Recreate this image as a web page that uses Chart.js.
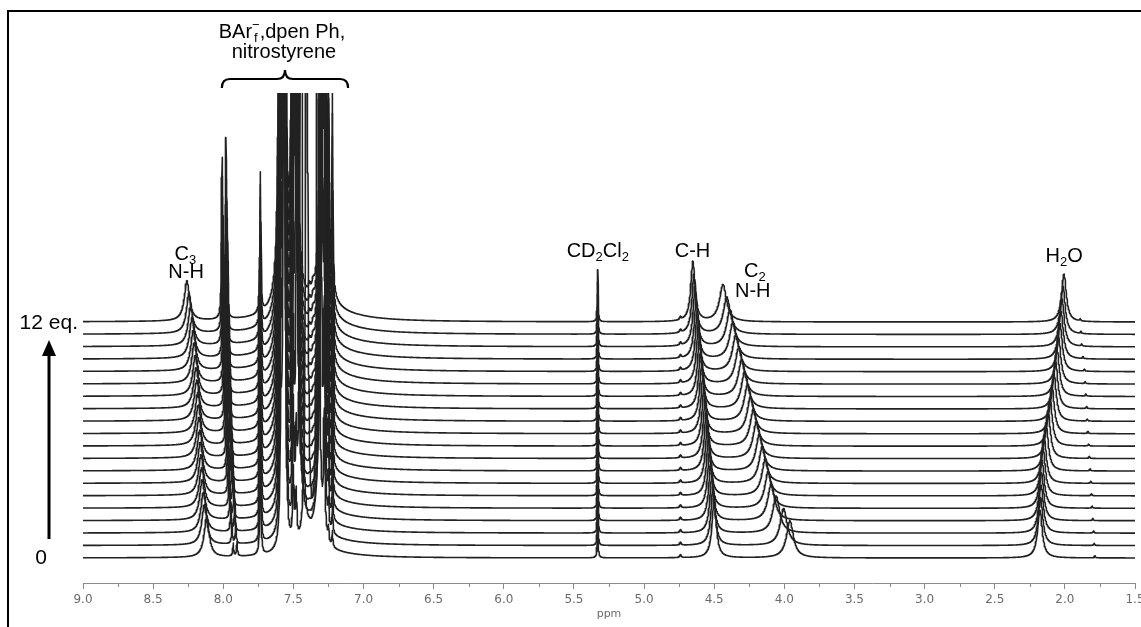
<!DOCTYPE html>
<html>
<head>
<meta charset="utf-8">
<script src="https://cdn.jsdelivr.net/npm/chart.js@4.4.1/dist/chart.umd.min.js"></script>
<style>
  html, body { margin: 0; padding: 0; background: #fff; overflow: hidden; }
  #wrap { position: relative; width: 1160px; height: 627px; }
</style>
</head>
<body>
<div id="wrap"><canvas id="nmr"></canvas></div>
<script>
// ---- 1H NMR titration, stacked spectra (bottom trace = 0, top trace = 12 eq.) ----

// chemical shift (ppm) of each moving signal, one value per trace, bottom to top
const shiftC3NH  = [8.118, 8.135, 8.142, 8.150, 8.154, 8.159, 8.164, 8.168, 8.173, 8.178, 8.182, 8.189, 8.194, 8.199, 8.207, 8.214, 8.223, 8.232, 8.244, 8.259];
const shiftCH    = [4.500, 4.508, 4.516, 4.524, 4.532, 4.540, 4.548, 4.556, 4.564, 4.572, 4.580, 4.588, 4.596, 4.604, 4.612, 4.620, 4.628, 4.636, 4.644, 4.652];
const shiftC2NH  = [3.960, 4.005, 4.058, 4.093, 4.114, 4.135, 4.156, 4.177, 4.198, 4.219, 4.240, 4.261, 4.282, 4.303, 4.324, 4.345, 4.366, 4.387, 4.410, 4.437];
const shiftH2O   = [2.178, 2.174, 2.170, 2.167, 2.163, 2.156, 2.149, 2.135, 2.120, 2.106, 2.092, 2.078, 2.067, 2.056, 2.046, 2.035, 2.028, 2.021, 2.014, 2.006];
const shiftMinor = [1.785, 1.790, 1.795, 1.800, 1.805, 1.810, 1.815, 1.820, 1.825, 1.830, 1.835, 1.840, 1.845, 1.850, 1.855, 1.860, 1.870, 1.880, 1.885, 1.890];
const shiftVinyl = [7.915, 7.925, 7.932, 7.938, 7.944, 7.949, 7.954, 7.958, 7.962, 7.966, 7.970, 7.973, 7.976, 7.979, 7.982, 7.985, 7.988, 7.991, 7.993, 7.995];
const shiftPhA   = [7.405, 7.445, 7.465, 7.475, 7.480, 7.483, 7.485, 7.486, 7.487, 7.488, 7.488, 7.489, 7.489, 7.490, 7.490, 7.490, 7.490, 7.490, 7.490, 7.490];
const shiftPhB   = [7.325, 7.310, 7.303, 7.299, 7.297, 7.296, 7.295, 7.295, 7.295, 7.295, 7.295, 7.295, 7.295, 7.295, 7.295, 7.295, 7.295, 7.295, 7.295, 7.295];

// relative amount of added nitrostyrene in each trace (1 = 12 eq.)
const titrantLevel = [0.08, 0.13, 0.18, 0.23, 0.28, 0.33, 0.38, 0.43, 0.48, 0.53, 0.58, 0.63, 0.68, 0.73, 0.78, 0.83, 0.87, 0.91, 0.96, 1.00];

// signals that keep their position: [ppm, intensity, half-width (ppm)]
const fixedLines = [
  [7.735, 140, 0.004],   // BArF ortho
  [7.565, 1800, 0.004],  // BArF para
  [7.300, 5, 0.25],      // broad aromatic base
  [5.330, 52, 0.003],    // CD2Cl2
  [4.740, 3, 0.006]
];

// nitrostyrene signals: [ppm, intensity at 12 eq., half-width (ppm)]
const titrantLines = [
  [7.590, 1500, 0.006],
  [7.575, 1200, 0.006],
  [7.500, 900, 0.006],
  [7.480, 600, 0.006],
  [7.385, 8, 0.008],
  [7.360, 8, 0.008],
  [7.280, 1500, 0.006],
  [7.250, 170, 0.004],
  [7.222, 190, 0.004],
  [7.300, 6, 0.25]
];

// moving signals: shift table, intensity, half-width (ppm)
const movingLines = [
  [shiftC3NH, 40, 0.022],
  [shiftPhA, 1200, 0.006],
  [shiftPhB, 1200, 0.006],
  [shiftCH, 60, 0.018],
  [shiftC2NH, 37, 0.030],
  [shiftH2O, 48, 0.020],
  [shiftMinor, 2, 0.004]
];
const vinylDoublet = [[0.0135, 158, 0.004], [-0.0135, 178, 0.004]]; // offset from centre, intensity at 12 eq., half-width

// axis ticks
const majorTicks = [9.0, 8.5, 8.0, 7.5, 7.0, 6.5, 6.0, 5.5, 5.0, 4.5, 4.0, 3.5, 3.0, 2.5, 2.0, 1.5];
const minorTicks = [8.75, 8.25, 7.75, 7.25, 6.75, 6.25, 5.75, 5.25, 4.75, 4.25, 3.75, 3.25, 2.75, 2.25, 1.75];

const traceSpacing = 12.42;   // vertical stacking offset between traces
const ppmMin = 1.5, ppmMax = 9.0, ppmStep = 0.002;

// Lorentzian line shape
function lorentz(x, centre, height, hw) {
  const d = (x - centre) / hw;
  return height / (1 + d * d);
}

function linesForTrace(i) {
  const lines = fixedLines.map(l => l.slice());
  titrantLines.forEach(([p, h, w]) => lines.push([p, h * titrantLevel[i], w]));
  movingLines.forEach(([shifts, h, w]) => lines.push([shifts[i], h, w]));
  vinylDoublet.forEach(([off, h, w]) => lines.push([shiftVinyl[i] + off, h * titrantLevel[i], w]));
  return lines;
}

function buildTrace(i) {
  const lines = linesForTrace(i);
  const xs = [];
  const n = Math.round((ppmMax - ppmMin) / ppmStep);
  for (let k = 0; k <= n; k++) xs.push(ppmMin + k * ppmStep);
  lines.forEach(l => xs.push(l[0]));
  xs.sort((a, b) => a - b);
  const offset = i * traceSpacing;
  return xs.map(x => {
    let y = 0;
    for (const [p, h, w] of lines) y += lorentz(x, p, h, w);
    return { x, y: offset + y };
  });
}

const datasets = titrantLevel.map((_, i) => ({
  data: buildTrace(i),
  borderColor: '#222222',
  borderWidth: 1.6,
  pointRadius: 0,
  tension: 0,
  fill: false
}));

// rich text: parts [{t, sub, sup, stackSup}]
function drawRich(ctx, parts, cx, baseline, size) {
  const big = `${size}px "Liberation Sans", Arial, sans-serif`;
  const small = `${Math.round(size * 0.65)}px "Liberation Sans", Arial, sans-serif`;
  let total = 0;
  const widths = parts.map(p => {
    ctx.font = (p.sub || p.sup) ? small : big;
    let w = ctx.measureText(p.t).width;
    if (p.stackSup) w = Math.max(w, ctx.measureText(p.stackSup).width);
    total += w;
    return w;
  });
  let x = cx - total / 2;
  ctx.textAlign = 'left';
  ctx.textBaseline = 'alphabetic';
  parts.forEach((p, k) => {
    if (p.sub || p.sup) {
      ctx.font = small;
      const dy = p.sub ? size * 0.22 : -size * 0.45;
      ctx.fillText(p.t, x + (widths[k] - ctx.measureText(p.t).width) / 2, baseline + dy);
      if (p.stackSup) {
        ctx.fillText(p.stackSup, x + (widths[k] - ctx.measureText(p.stackSup).width) / 2, baseline - size * 0.45);
      }
    } else {
      ctx.font = big;
      ctx.fillText(p.t, x, baseline);
    }
    x += widths[k];
  });
}

const annotate = {
  id: 'annotate',
  afterDraw(chart) {
    const ctx = chart.ctx;
    const xs = chart.scales.x;
    const px = v => xs.getPixelForValue(v);
    ctx.save();
    ctx.fillStyle = '#000';
    ctx.strokeStyle = '#000';

    // frame
    ctx.lineWidth = 2;
    ctx.beginPath();
    ctx.moveTo(8, 640); ctx.lineTo(8, 11); ctx.lineTo(1170, 11);
    ctx.stroke();

    // minor ticks
    ctx.strokeStyle = '#8a8a8a';
    ctx.lineWidth = 1;
    const axisY = chart.chartArea.bottom;
    minorTicks.forEach(v => {
      const x = Math.round(px(v)) + 0.5;
      ctx.beginPath(); ctx.moveTo(x, axisY); ctx.lineTo(x, axisY + 4); ctx.stroke();
    });

    ctx.strokeStyle = '#000';
    ctx.fillStyle = '#000';
    const S = 20;
    // group label + brace
    drawRich(ctx, [{ t: 'BAr' }, { t: 'f', sub: true, stackSup: '\u2212' }, { t: ',dpen Ph,' }], px(7.56) - 3, 38, S);
    drawRich(ctx, [{ t: 'nitrostyrene' }], px(7.56) - 1, 58, S);
    const bl = px(8.01), br = px(7.11), bc = px(7.56);
    ctx.lineWidth = 2.2;
    ctx.beginPath();
    ctx.moveTo(bl, 88);
    ctx.quadraticCurveTo(bl, 79, bl + 8, 79);
    ctx.lineTo(bc - 8, 79);
    ctx.quadraticCurveTo(bc, 79, bc, 70);
    ctx.quadraticCurveTo(bc, 79, bc + 8, 79);
    ctx.lineTo(br - 8, 79);
    ctx.quadraticCurveTo(br, 79, br, 88);
    ctx.stroke();

    // peak labels
    drawRich(ctx, [{ t: 'C' }, { t: '3', sub: true }], px(8.27), 260, S);
    drawRich(ctx, [{ t: 'N-H' }], px(8.265), 278, S);
    drawRich(ctx, [{ t: 'CD' }, { t: '2', sub: true }, { t: 'Cl' }, { t: '2', sub: true }], px(5.33), 257, S);
    drawRich(ctx, [{ t: 'C-H' }], px(4.655), 257, S);
    drawRich(ctx, [{ t: 'C' }, { t: '2', sub: true }], px(4.21), 277, S);
    drawRich(ctx, [{ t: 'N-H' }], px(4.225), 297, S);
    drawRich(ctx, [{ t: 'H' }, { t: '2', sub: true }, { t: 'O' }], px(2.005), 262, S);

    // titration direction
    ctx.font = `21px "Liberation Sans", Arial, sans-serif`;
    ctx.textAlign = 'right';
    ctx.fillText('12 eq.', 78, 329);
    ctx.textAlign = 'center';
    ctx.fillText('0', 41, 564);
    ctx.lineWidth = 3;
    ctx.beginPath(); ctx.moveTo(49, 539); ctx.lineTo(49, 352); ctx.stroke();
    ctx.beginPath();
    ctx.moveTo(49, 340); ctx.lineTo(42, 356); ctx.lineTo(56, 356); ctx.closePath();
    ctx.fill();
    ctx.restore();
  }
};

new Chart(document.getElementById('nmr'), {
  type: 'line',
  data: { datasets },
  options: {
    responsive: true,
    maintainAspectRatio: false,
    animation: false,
    events: [],
    parsing: false,
    normalized: true,
    layout: { padding: { left: 83, right: 25, top: 93, bottom: 0 } },
    plugins: { legend: { display: false }, tooltip: { enabled: false } },
    elements: { point: { radius: 0 }, line: { borderJoinStyle: 'round' } },
    scales: {
      x: {
        type: 'linear',
        reverse: true,
        min: ppmMin,
        max: ppmMax,
        afterBuildTicks: s => { s.ticks = majorTicks.map(v => ({ value: v })); },
        afterFit: s => { s.height = 44; },
        ticks: {
          autoSkip: false, maxRotation: 0, padding: 4,
          color: '#6b6b6b',
          font: { family: '"DejaVu Sans", Verdana, sans-serif', size: 12 },
          callback: v => Number(v).toFixed(1)
        },
        grid: { drawOnChartArea: false, drawTicks: true, tickLength: 6, color: '#8a8a8a', lineWidth: 1 },
        border: { display: true, color: '#8a8a8a', width: 1 },
        title: {
          display: true, text: 'ppm', color: '#6b6b6b',
          font: { family: '"DejaVu Sans", Verdana, sans-serif', size: 11 },
          padding: { top: 0, bottom: 6 }
        }
      },
      y: { display: false, min: -25, max: 465 }
    }
  },
  plugins: [annotate]
});
</script>
</body>
</html>
